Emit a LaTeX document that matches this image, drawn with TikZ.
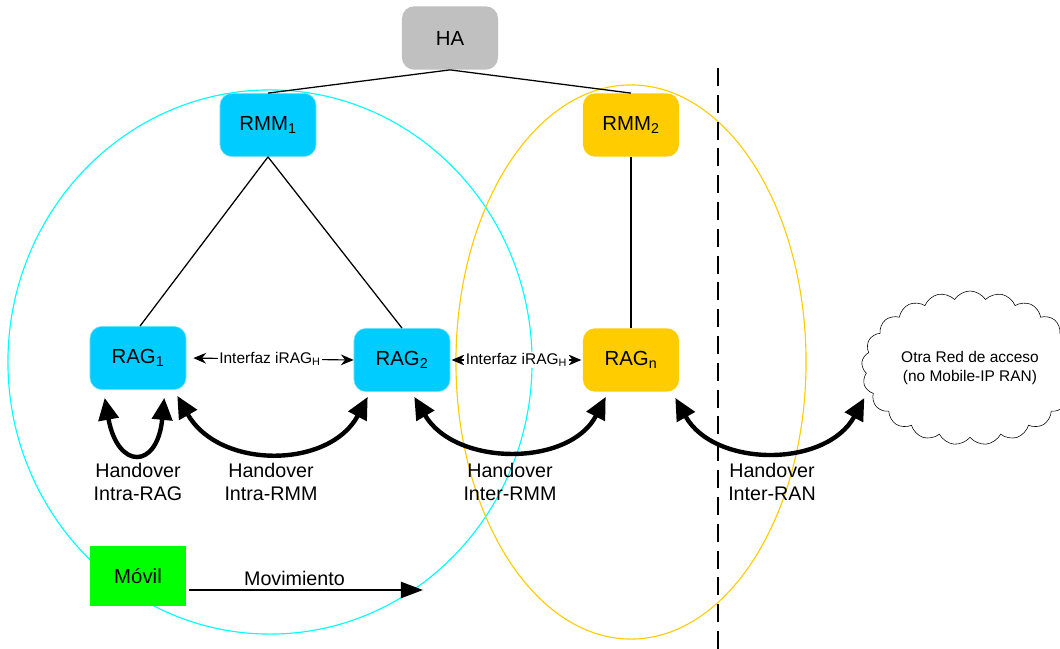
\documentclass[tikz,border=0pt]{standalone}
\usepackage{fontspec}
\setmainfont{Liberation Sans}
\usetikzlibrary{arrows.meta,positioning,shapes.symbols}
\definecolor{cHA}{HTML}{C0C0C0}
\definecolor{cRM}{HTML}{00CCFF}
\definecolor{cRN}{HTML}{FFCC00}
\definecolor{cMov}{HTML}{00FF00}
\definecolor{cRing}{HTML}{00FFFF}
\definecolor{cInk}{HTML}{000000}
\tikzset{
  >=Stealth,
  box/.style ={rounded corners=0.3cm,minimum width=2.4cm,minimum height=1.58cm,inner sep=2pt,
               font=\fontsize{14.5}{16}\selectfont},
  hbox/.style={box,fill=cHA}, cbox/.style={box,fill=cRM,draw=cRM!55},
  ybox/.style={box,fill=cRN}, mbox/.style={box,sharp corners,fill=cMov,minimum height=1.48cm},
  tie/.style ={line width=0.9pt,cInk},
  hov/.style ={{Triangle[length=0.55cm,width=0.5cm]}-{Triangle[length=0.55cm,width=0.5cm]},line width=1.1mm,cInk},
  ifz/.style ={{Stealth[length=0.32cm,width=0.27cm]}-{Stealth[length=0.32cm,width=0.27cm]},line width=0.8pt,cInk},
  lbl/.style ={fill=white,inner sep=1pt,font=\fontsize{11}{13}\selectfont},
  hovtxt/.style={align=center,font=\fontsize{14}{16.3}\selectfont},
}

\begin{document}
\begin{tikzpicture}[x=0.025cm,y=-0.025cm]
\useasboundingbox (0,0) rectangle (1060,649);
\draw[cRing,line width=0.8pt] (270,362) ellipse [x radius=6.55cm,y radius=6.8cm];
\draw[cRN,line width=0.8pt] (631,362) ellipse [x radius=4.375cm,y radius=6.925cm];
\node[hbox] (ha)    at (450,38)  {HA};
\node[cbox] (rmmA)  at (268,125) {RMM\textsubscript{1}};
\node[ybox] (rmmB)  at (631,125) {RMM\textsubscript{2}};
\node[cbox] (ragA)  at (138,358) {RAG\textsubscript{1}};
\node[cbox] (ragB)  at (402,360) {RAG\textsubscript{2}};
\node[ybox] (ragN)  at (631,360) {RAG\textsubscript{n}};
\node[mbox] (movil) at (138,576) {Móvil};
\node[cloud,draw,cloud puffs=21,cloud puff arc=115,aspect=1.5,minimum width=4.9cm,minimum height=3.3cm,
      align=center,font=\fontsize{11}{13}\selectfont] (otra) at (970,368)
 {Otra Red de acceso\\(no Mobile-IP RAN)};
\draw[tie] (ha.south) -- (rmmA.north); \draw[tie] (ha.south) -- (rmmB.north);
\draw[tie] (rmmA.south) -- ([xshift=0.05cm]ragA.north); \draw[tie] (rmmA.south) -- (ragB.north);
\draw[tie] (rmmB.south) -- (ragN.north);
\draw[ifz,shorten <=5pt] (ragA.east) -- node[lbl]{Interfaz iRAG\textsubscript{H}} (ragB.west);
\draw[ifz,shorten <=1pt,shorten >=1pt] (ragB.east) -- node[lbl]{Interfaz iRAG\textsubscript{H}} (ragN.west);
\draw[hov] ([shift={(15,8)}]ragA.south west) .. controls +(13,72) and +(-7,72) .. ([shift={(-22,8)}]ragA.south east);
\draw[hov] ([shift={(-9,6)}]ragA.south east) .. controls +(42,74) and +(-38,72) .. ([shift={(14,5)}]ragB.south west);
\draw[hov] ([shift={(-36,5)}]ragB.south east) .. controls +(41,70) and +(-36,70) .. ([shift={(23,5)}]ragN.south west);
\draw[hov] ([shift={(-4,6)}]ragN.south east) .. controls +(39,70) and +(-38,70) .. ([shift={(2,30)}]otra.west);
\node[hovtxt] (hA) at (138,482) {Handover\\Intra-RAG};
\node[hovtxt] (hB) at (271,482) {Handover\\Intra-RMM};
\node[hovtxt] (hC) at (510,482) {Handover\\Inter-RMM};
\node[hovtxt] (hD) at (772,482) {Handover\\Inter-RAN};
\draw[cInk,line width=1.4pt,dash pattern=on 0.45cm off 0.22cm] (718,68) -- (718,649);
\coordinate (mvEnd) at (423,590);
\draw[cInk,line width=1.6pt,-{Triangle[length=0.55cm,width=0.4cm]}] ([shift={(3,14)}]movil.east) --
  node[hovtxt,above,pos=0.45,yshift=-1pt]{Movimiento} (mvEnd);
\end{tikzpicture}
\end{document}
